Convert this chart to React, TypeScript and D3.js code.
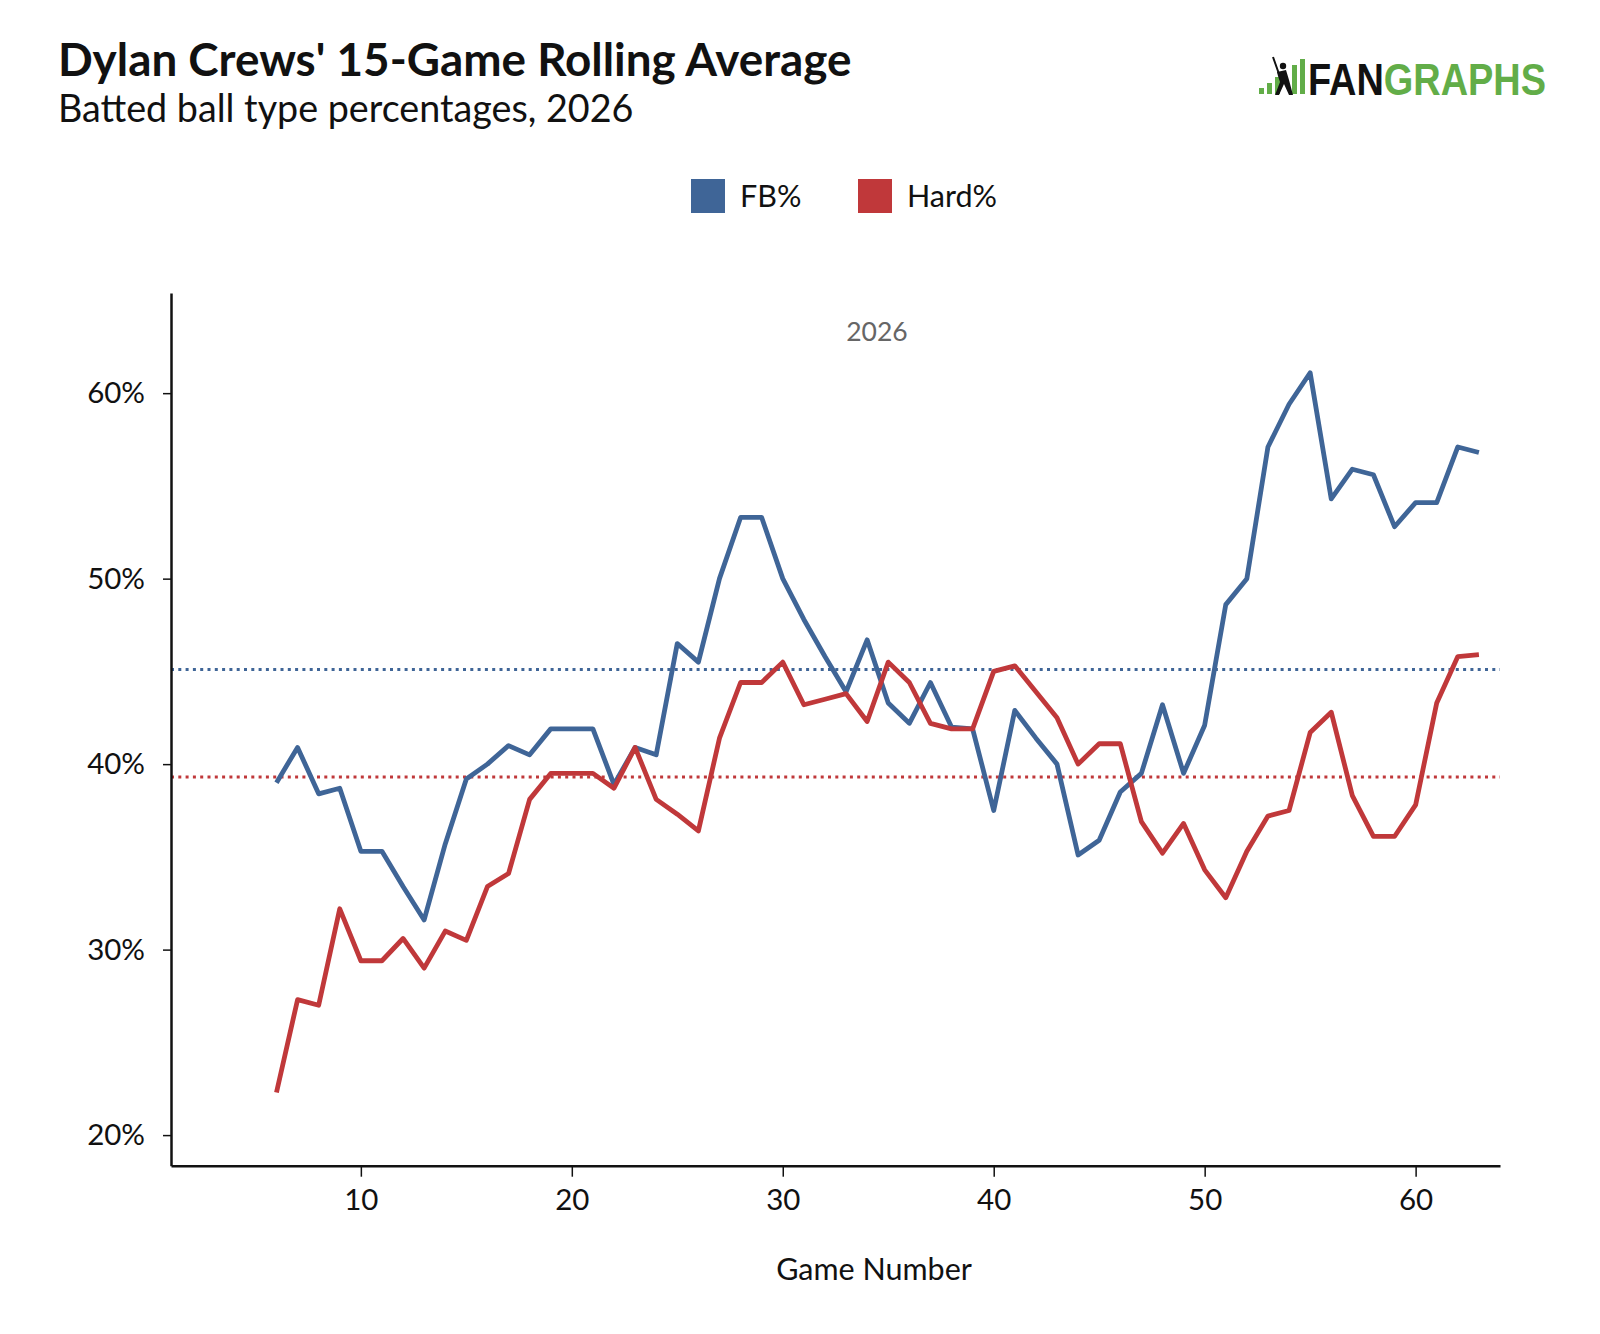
import * as d3 from 'd3';
import * as React from 'react';

const games = d3.range(6, 64);

const fbPct = [
  39.0, 40.9, 38.4, 38.7, 35.3, 35.3, 33.4, 31.6, 35.7, 39.2, 40.0, 41.0, 40.5, 41.9, 41.9, 41.9, 38.9, 40.9, 40.5, 46.5,
  45.5, 50.0, 53.3, 53.3, 50.0, 47.8, 45.8, 43.9, 46.7, 43.3, 42.2, 44.4, 42.0, 41.9, 37.5, 42.9, 41.4, 40.0, 35.1, 35.9,
  38.5, 39.5, 43.2, 39.5, 42.1, 48.6, 50.0, 57.1, 59.4, 61.1, 54.3, 55.9, 55.6, 52.8, 54.1, 54.1, 57.1, 56.8,
];

const hardPct = [
  22.3, 27.3, 27.0, 32.2, 29.4, 29.4, 30.6, 29.0, 31.0, 30.5, 33.4, 34.1, 38.1, 39.5, 39.5, 39.5, 38.7, 40.9, 38.1, 37.3,
  36.4, 41.4, 44.4, 44.4, 45.5, 43.2, 43.5, 43.8, 42.3, 45.5, 44.4, 42.2, 41.9, 41.9, 45.0, 45.3, 43.9, 42.5, 40.0, 41.1,
  41.1, 36.9, 35.2, 36.8, 34.3, 32.8, 35.3, 37.2, 37.5, 41.7, 42.8, 38.3, 36.1, 36.1, 37.8, 43.3, 45.8, 45.9,
];

const seasonAvg = [
  { key: 'FB%', value: 45.1 },
  { key: 'Hard%', value: 39.3 },
];

const seriesNames = ['FB%', 'Hard%'];
const seriesColors = ['#3f6597', '#c0383a'];
const yTicks = [20, 30, 40, 50, 60];
const xTicks = [10, 20, 30, 40, 50, 60];

const W = 1600;
const H = 1334;
const FONT = 'Lato, "Open Sans", sans-serif';

const App = () => {
  const ref = React.useRef<SVGSVGElement | null>(null);

  React.useEffect(() => {
    if (!ref.current) return;
    const svg = d3.select(ref.current);
    svg.selectAll('*').remove();

    const x = d3.scaleLinear().domain([1, 64]).range([171, 1500]);
    const y = d3.scaleLinear().domain([18.35, 65.4]).range([1165.7, 293]);
    const color = d3.scaleOrdinal<string, string>().domain(seriesNames).range(seriesColors);

    svg.append('rect').attr('width', W).attr('height', H).attr('fill', '#fff');

    // titles
    svg
      .append('text')
      .attr('x', 58)
      .attr('y', 76)
      .attr('font-family', FONT)
      .attr('font-weight', 700)
      .attr('font-size', 45.8)
      .attr('fill', '#111')
      .text("Dylan Crews' 15-Game Rolling Average");
    svg
      .append('text')
      .attr('x', 58)
      .attr('y', 121.5)
      .attr('font-family', FONT)
      .attr('font-size', 37.7)
      .attr('fill', '#111')
      .text('Batted ball type percentages, 2026');

    // logo
    const logo = svg.append('g');
    const green = '#62ad48';
    logo.append('rect').attr('x', 1259).attr('y', 88).attr('width', 5).attr('height', 6).attr('fill', green);
    [
      [1267, 83],
      [1275, 77],
      [1292, 65],
      [1300, 59],
    ].forEach(([bx, by]) => {
      logo.append('rect').attr('x', bx).attr('y', by).attr('width', 5).attr('height', 94 - by).attr('fill', green);
    });
    logo
      .append('line')
      .attr('x1', 1279)
      .attr('y1', 74)
      .attr('x2', 1273)
      .attr('y2', 57)
      .attr('stroke', '#111')
      .attr('stroke-width', 2);
    logo.append('circle').attr('cx', 1283).attr('cy', 66).attr('r', 3.2).attr('fill', '#111');
    logo
      .append('path')
      .attr('d', 'M1277,72 L1286,70 L1289,80 L1293,95 L1289,95 L1284,84 L1279,95 L1275,95 L1280,82 L1278,76 Z')
      .attr('fill', '#111');

    const logoText = svg
      .append('text')
      .attr('x', 1308)
      .attr('y', 95)
      .attr('font-family', '"Liberation Sans", Arial, sans-serif')
      .attr('font-weight', 700)
      .attr('font-size', 45)
      .attr('textLength', 238)
      .attr('lengthAdjust', 'spacingAndGlyphs');
    logoText.append('tspan').attr('fill', '#111').text('FAN');
    logoText.append('tspan').attr('fill', green).text('GRAPHS');

    // legend
    const legendX = [691, 858];
    seriesNames.forEach((name, i) => {
      svg
        .append('rect')
        .attr('x', legendX[i])
        .attr('y', 179)
        .attr('width', 34)
        .attr('height', 34)
        .attr('fill', color(name));
      svg
        .append('text')
        .attr('x', legendX[i] + 49)
        .attr('y', 206.5)
        .attr('font-family', FONT)
        .attr('font-size', 30.5)
        .attr('fill', '#111')
        .text(name);
    });

    // panel label
    svg
      .append('text')
      .attr('x', 877)
      .attr('y', 341)
      .attr('text-anchor', 'middle')
      .attr('font-family', FONT)
      .attr('font-size', 26.5)
      .attr('fill', '#666')
      .text('2026');

    // season average reference lines
    svg
      .append('g')
      .selectAll('line')
      .data(seasonAvg)
      .enter()
      .append('line')
      .attr('x1', x.range()[0])
      .attr('x2', x.range()[1])
      .attr('y1', (d) => y(d.value))
      .attr('y2', (d) => y(d.value))
      .attr('stroke', (d) => color(d.key))
      .attr('stroke-width', 3)
      .attr('stroke-dasharray', '3,4.3');

    // rolling lines
    const line = d3
      .line<number>()
      .x((_, i) => x(games[i]))
      .y((d) => y(d));
    [fbPct, hardPct].forEach((vals, i) => {
      svg
        .append('path')
        .attr('d', line(vals))
        .attr('fill', 'none')
        .attr('stroke', color(seriesNames[i]))
        .attr('stroke-width', 4.8)
        .attr('stroke-linejoin', 'round');
    });

    // axes
    const yAxis = svg
      .append('g')
      .attr('transform', 'translate(171,0)')
      .call(
        d3
          .axisLeft(y)
          .tickValues(yTicks)
          .tickSize(8)
          .tickSizeOuter(0)
          .tickPadding(18)
          .tickFormat((d) => `${d}%`)
      );
    const xAxis = svg
      .append('g')
      .attr('transform', 'translate(0,1165.7)')
      .call(d3.axisBottom(x).tickValues(xTicks).tickSize(11).tickSizeOuter(0).tickPadding(12));

    [yAxis, xAxis].forEach((ax) => {
      ax.select('.domain').attr('stroke', '#111').attr('stroke-width', 2.5);
      ax.selectAll('.tick line').attr('stroke', '#111').attr('stroke-width', 1.5);
      ax.selectAll('.tick text').attr('fill', '#111').attr('font-family', FONT).attr('font-size', 29.5);
    });

    svg
      .append('text')
      .attr('x', 874)
      .attr('y', 1279.5)
      .attr('text-anchor', 'middle')
      .attr('font-family', FONT)
      .attr('font-size', 30.5)
      .attr('fill', '#111')
      .text('Game Number');
  }, []);

  return (
    <svg
      ref={ref}
      width={W}
      height={H}
      viewBox={`0 0 ${W} ${H}`}
      style={{ position: 'absolute', left: 0, top: 0, display: 'block' }}
    />
  );
};

export default App;
